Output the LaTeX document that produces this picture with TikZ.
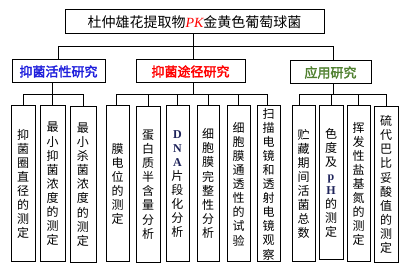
\documentclass[tikz,border=0pt]{standalone}
\usepackage{fontspec}
\setmainfont{Liberation Serif}
\newfontfamily\cjk{Noto Sans CJK SC}
\newfontfamily\cjkb{Noto Sans CJK SC}[FakeBold=2.5]
\usetikzlibrary{calc}
\definecolor{tblue}{RGB}{30,30,220}
\definecolor{tred}{RGB}{255,0,0}
\definecolor{tgreen}{RGB}{80,128,48}
\definecolor{tnavy}{RGB}{30,35,90}
\tikzset{
  boxs/.style={draw=black, line width=1pt, inner sep=0pt},
  leaf/.style={boxs, minimum width=24pt, minimum height=156pt, align=center,
    font=\cjk\fontsize{12}{14.1}\selectfont},
  mid/.style={boxs, minimum height=23pt, font=\cjkb\fontsize{13}{15}\selectfont},
  conn/.style={line width=1pt, line cap=rect},
}
\newcommand{\lat}[1]{{\fontspec{Liberation Serif}\bfseries\color{tnavy}#1}}
\begin{document}
\begin{tikzpicture}[x=1pt,y=-1pt]
\useasboundingbox (0,0) rectangle (408,270);
\node[boxs, minimum width=259pt, minimum height=24pt, font=\cjk\fontsize{14}{16}\selectfont] (top) at (194.5,22)
  {杜仲雄花提取物{\fontspec{Liberation Serif}\itshape\color{tred}PK}金黄色葡萄球菌};
\node[mid, minimum width=93pt, text=tblue] (A) at (58.5,71.5) {抑菌活性研究};
\node[mid, minimum width=109pt, text=tred] (B) at (190.5,71.5) {抑菌途径研究};
\node[mid, minimum width=81pt, text=tgreen] (C) at (330.5,72.5) {应用研究};
% leaves
\node[leaf] (l1) at (23,184) {抑\\菌\\圈\\直\\径\\的\\测\\定};
\node[leaf, minimum width=25pt] (l2) at (52.5,184) {最\\小\\抑\\菌\\浓\\度\\的\\测\\定};
\node[leaf, minimum width=26pt] (l3) at (83,184.5) {最\\小\\杀\\菌\\浓\\度\\的\\测\\定};
\node[leaf, minimum width=23pt] (l4) at (117.5,184) {膜\\电\\位\\的\\测\\定};
\node[leaf] (l5) at (148,184.5) {蛋\\白\\质\\半\\含\\量\\分\\析};
\node[leaf, minimum width=23pt] (l6) at (177.5,184) {\lat{D}\\\lat{N}\\\lat{A}\\片\\段\\化\\分\\析};
\node[leaf, minimum width=22pt] (l7) at (208,183.5) {细\\胞\\膜\\完\\整\\性\\分\\析};
\node[leaf, minimum width=23pt] (l8) at (238.5,184) {细\\胞\\膜\\通\\透\\性\\的\\试\\验};
\node[leaf, minimum width=23pt] (l9) at (268.5,184) {扫\\描\\电\\镜\\和\\透\\射\\电\\镜\\观\\察};
\node[leaf, minimum width=23pt] (l10) at (303.5,184) {贮\\藏\\期\\间\\活\\菌\\总\\数};
\node[leaf, minimum height=154pt] (l11) at (331,183) {色\\度\\及\\\lat{p}\\\lat{H}\\的\\测\\定};
\node[leaf, minimum width=23pt] (l12) at (358.5,184) {挥\\发\\性\\盐\\基\\氮\\的\\测\\定};
\node[leaf] (l13) at (386,184.5) {硫\\代\\巴\\比\\妥\\酸\\值\\的\\测\\定};
% connectors level 1
\coordinate (mx) at (193,47);
\draw[conn] (top.south -| mx) -- (B.north -| mx);
\draw[conn] (A.north -| 58,0) -- (mx -| 58,0) -- (mx -| 333,0) -- (C.north -| 333,0);
% group A
\coordinate (ba) at (0,95);
\draw[conn] (A.south -| l2.north) -- (l2.north);
\draw[conn] (l1.north) -- (ba -| l1.north) -- (ba -| l3.north) -- (l3.north);
% group B
\draw[conn] (B.south -| mx) -- (ba -| mx);
\draw[conn] (l4.north -| 116,0) -- (ba -| 116,0) -- (ba -| 267,0) -- (l9.north -| 267,0);
\foreach \n in {l5,l6,l7,l8} \draw[conn] (ba -| \n.north) -- (\n.north);
% group C
\draw[conn] (C.south -| 333,0) -- (ba -| 333,0);
\draw[conn] (l10.north -| 299,0) -- (ba -| 299,0) -- (ba -| l13.north) -- (l13.north);
\draw[conn] (ba -| l11.north) -- (l11.north);
\draw[conn] (ba -| l12.north) -- (l12.north);
\end{tikzpicture}
\end{document}
